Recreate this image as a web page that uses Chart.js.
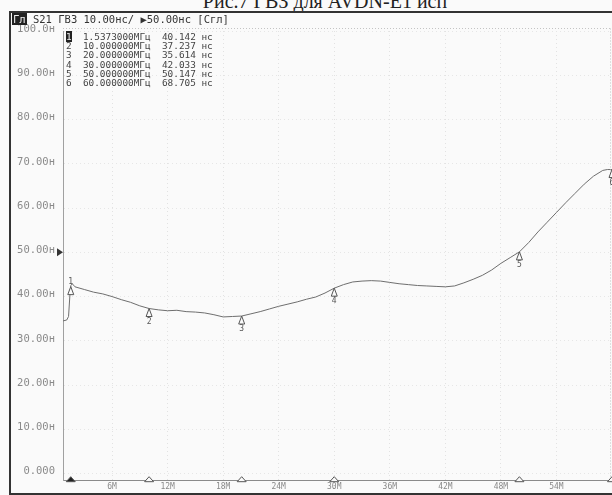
<!DOCTYPE html>
<html>
<head>
<meta charset="utf-8">
<script src="https://cdn.jsdelivr.net/npm/chart.js@4/dist/chart.umd.min.js"></script>
<style>
    html, body { margin: 0; padding: 0; background: #fafafa; }
    #wrap { position: relative; width: 612px; height: 495px; overflow: hidden; background: #fafafa; }
    #chart { position: absolute; left: 0; top: 0; }
    #caption { position: absolute; left: 0; width: 650px; top: -10px; text-align: center; font: 20px "Liberation Serif", serif; color: #222; }
    #frame { position: absolute; left: 9px; top: 11px; width: 620px; height: 480px; border: 2px solid #333; border-right: none; }
    #hdr { position: absolute; left: 12px; top: 13px; font: 10.5px "DejaVu Sans Mono", monospace; color: #333; white-space: pre; }
    #hdr b { background: #222; color: #eee; font-weight: normal; padding: 0 1px; }
    #mtab { position: absolute; left: 66px; top: 32px; font: 9.4px "DejaVu Sans Mono", monospace; color: #444; line-height: 9.2px; white-space: pre; }
    #mtab .act { background: #222; color: #eee; }
</style>
</head>
<body>
<div id="wrap">
    <div id="caption">Рис.7 ГВЗ для AVDN-E1 исп</div>
    <canvas id="chart" width="612" height="495"></canvas>
    <div id="frame"></div>
    <div id="hdr"><b>Гл</b> S21 ГВЗ 10.00нс/ ▶50.00нс [Сгл]</div>
    <div id="mtab"></div>
</div>
<script>
// trace: frequency (MHz) / group delay (ns)
var aFreq = [0.7, 1.1, 1.3, 1.45, 1.55, 1.7, 2.0, 3, 4, 5, 6, 7, 8, 9, 10, 11, 12, 13, 14, 15,
    16, 17, 18, 19, 20, 21, 22, 23, 24, 25, 26, 27, 28, 29, 30, 31, 32, 33, 34, 35,
    36, 37, 38, 39, 40, 41, 42, 43, 44, 45, 46, 47, 48, 49, 50, 51, 52, 53, 54, 55,
    56, 57, 58, 59, 59.5, 60];
var aDelay = [34.5, 34.7, 35.5, 40.5, 42.5, 42.9, 42.2, 41.6, 41.0, 40.6, 40.0, 39.3, 38.7, 37.9, 37.3, 37.0, 36.8, 36.9, 36.6, 36.5,
    36.3, 35.9, 35.4, 35.5, 35.6, 36.1, 36.6, 37.2, 37.8, 38.3, 38.8, 39.4, 39.9, 40.8, 41.9, 42.7, 43.3, 43.5, 43.6, 43.5,
    43.2, 42.9, 42.7, 42.5, 42.4, 42.3, 42.2, 42.4, 43.1, 43.9, 44.8, 46.0, 47.5, 48.8, 50.1, 52.2, 54.6, 56.8, 59.0, 61.2,
    63.3, 65.4, 67.2, 68.5, 68.7, 68.7];

// markers
var aMarkerId = ['1', '2', '3', '4', '5', '6'];
var aMarkerFreq = [1.5373, 10, 20, 30, 50, 60];
var aMarkerFreqText = ['1.5373000МГц', '10.000000МГц', '20.000000МГц', '30.000000МГц', '50.000000МГц', '60.000000МГц'];
var aMarkerDelayText = ['40.142 нс', '37.237 нс', '35.614 нс', '42.033 нс', '50.147 нс', '68.705 нс'];

// axes
var aYTicks = [0, 10, 20, 30, 40, 50, 60, 70, 80, 90, 100];
var aXTicks = [6, 12, 18, 24, 30, 36, 42, 48, 54];
var fRefLevel = 50;

// marker table
var sRows = '';
for (var i = 0; i < aMarkerId.length; i++) {
    var sId = i == 0 ? '<span class="act">' + aMarkerId[i] + '</span>' : aMarkerId[i];
    sRows += sId + '  ' + aMarkerFreqText[i] + '  ' + aMarkerDelayText[i] + '\n';
}
document.getElementById('mtab').innerHTML = sRows;

function traceAt(f) {
    for (var i = 1; i < aFreq.length; i++) {
        if (f <= aFreq[i]) {
            var t = (f - aFreq[i - 1]) / (aFreq[i] - aFreq[i - 1]);
            return aDelay[i - 1] + t * (aDelay[i] - aDelay[i - 1]);
        }
    }
    return aDelay[aDelay.length - 1];
}

function tri(ctx, x, yTop, w, h, bFill) {
    ctx.beginPath();
    ctx.moveTo(x, yTop);
    ctx.lineTo(x - w / 2, yTop + h);
    ctx.lineTo(x + w / 2, yTop + h);
    ctx.closePath();
    if (bFill) ctx.fill();
    ctx.stroke();
}

var oMarkers = {
    id: 'markers',
    afterDatasetsDraw: function(chart) {
        var ctx = chart.ctx, xs = chart.scales.x, ys = chart.scales.y, a = chart.chartArea;
        ctx.save();

        // top / right dotted border
        ctx.strokeStyle = '#c4c4c4';
        ctx.lineWidth = 1;
        ctx.setLineDash([1, 2]);
        ctx.beginPath();
        ctx.moveTo(a.left, a.top - 2.5);
        ctx.lineTo(a.right, a.top - 2.5);
        ctx.moveTo(a.right - 1.5, a.top - 2.5);
        ctx.lineTo(a.right - 1.5, a.bottom);
        ctx.stroke();
        ctx.setLineDash([]);

        // trace markers
        ctx.strokeStyle = '#555';
        ctx.fillStyle = '#555';
        ctx.font = '8px "DejaVu Sans Mono", monospace';
        ctx.textAlign = 'center';
        ctx.textBaseline = 'middle';
        for (var i = 0; i < aMarkerFreq.length; i++) {
            var px = xs.getPixelForValue(aMarkerFreq[i]);
            var py = ys.getPixelForValue(traceAt(aMarkerFreq[i]));
            ctx.fillStyle = '#fafafa';
            tri(ctx, px, py, 6, 8, true);
            ctx.fillStyle = '#555';
            ctx.fillText(aMarkerId[i], px, i == 0 ? py - 5 : py + 13);

            // axis markers
            var by = a.bottom;
            ctx.fillStyle = i == 0 ? '#222' : '#fafafa';
            tri(ctx, px, by - 4, 9, 5, true);
        }

        // reference level arrow
        var ry = ys.getPixelForValue(fRefLevel);
        ctx.fillStyle = '#333';
        ctx.beginPath();
        ctx.moveTo(a.left - 6, ry - 4);
        ctx.lineTo(a.left, ry);
        ctx.lineTo(a.left - 6, ry + 4);
        ctx.closePath();
        ctx.fill();
        ctx.restore();
    }
};

new Chart(document.getElementById('chart'), {
    type: 'line',
    data: {
        datasets: [{
            data: aFreq.map(function(f, i) { return {x: f, y: aDelay[i]}; }),
            borderColor: '#6e6e6e',
            borderWidth: 1,
            pointRadius: 0,
            tension: 0
        }]
    },
    options: {
        responsive: false,
        animation: false,
        layout: {padding: {top: 31, right: 0, bottom: 0, left: 0}},
        plugins: {legend: {display: false}, tooltip: {enabled: false}},
        scales: {
            x: {
                type: 'linear',
                min: 0.7,
                max: 60,
                afterFit: function(s) { s.height = 12; },
                afterBuildTicks: function(s) { s.ticks = aXTicks.map(function(v) { return {value: v}; }); },
                grid: {color: '#e2e2e2', tickLength: 0},
                border: {color: '#8a8a8a', width: 1, dash: [1, 3]},
                ticks: {
                    padding: 1,
                    maxRotation: 0,
                    color: '#888',
                    font: {family: '"DejaVu Sans Mono", monospace', size: 8},
                    callback: function(v) { return v + 'M'; }
                }
            },
            y: {
                min: -1.6,
                max: 100,
                afterFit: function(s) { s.width = 63; },
                afterBuildTicks: function(s) { s.ticks = aYTicks.map(function(v) { return {value: v}; }); },
                grid: {color: '#e6e6e6', tickLength: 0},
                border: {color: '#a0a0a0', width: 1, dash: [1, 3]},
                ticks: {
                    padding: 8,
                    labelOffset: -2,
                    color: '#8a8a8a',
                    font: {family: '"DejaVu Sans Mono", monospace', size: 10.5},
                    callback: function(v) {
                        if (v == 100) return '100.0н';
                        if (v == 0) return '0.000';
                        return v.toFixed(2) + 'н';
                    }
                }
            }
        }
    },
    plugins: [oMarkers]
});
</script>
</body>
</html>
